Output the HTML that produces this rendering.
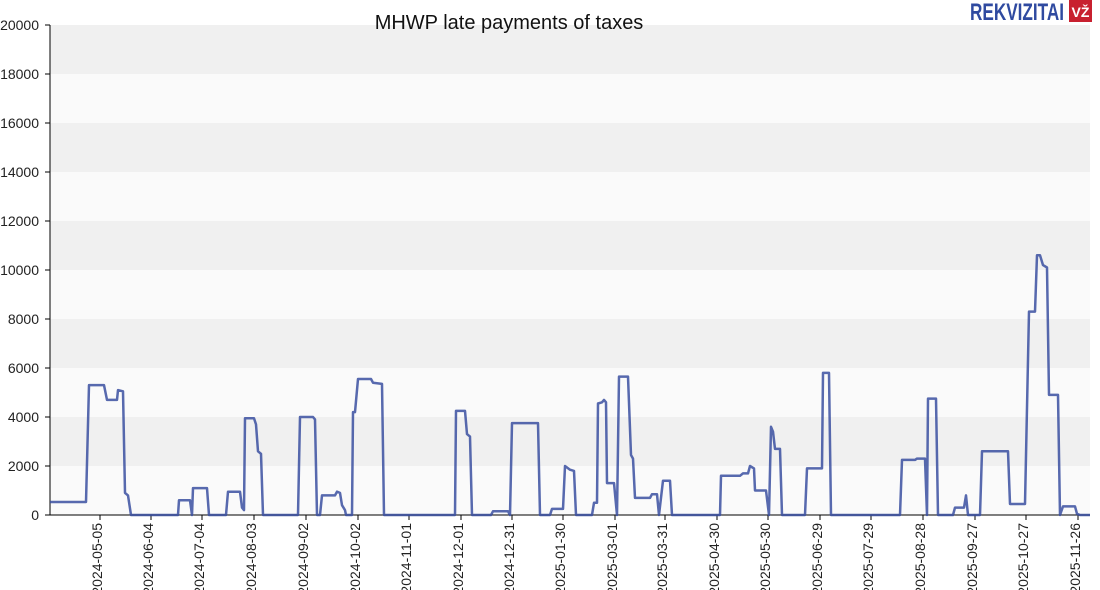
<!DOCTYPE html>
<html><head><meta charset="utf-8"><style>body{margin:0;background:#fff}svg{display:block;font-family:"Liberation Sans",sans-serif}</style></head>
<body>
<svg id="s" width="1100" height="590" xmlns="http://www.w3.org/2000/svg">
<rect width="1100" height="590" fill="#fff"/>
<g id="bands"></g>
<text x="509" y="29" font-size="20" text-anchor="middle" fill="#111">MHWP late payments of taxes</text>
<text x="1064" y="20" font-size="24" font-weight="bold" text-anchor="end" fill="#2f4aa0" textLength="94" lengthAdjust="spacingAndGlyphs">REKVIZITAI</text>
<rect x="1069" y="0" width="23" height="22" fill="#c8202f"/>
<text x="1080.5" y="17" font-size="14" font-weight="bold" text-anchor="middle" fill="#fff">VŽ</text>
<g id="yl" font-size="14" fill="#222" text-anchor="end"></g>
<g id="xl" font-size="14" fill="#222"></g>
<line x1="50" y1="25" x2="50" y2="515" stroke="#000"/>
<line x1="50" y1="515" x2="1090" y2="515" stroke="#000"/>
<polyline id="ln" fill="none" stroke="#3a4fa0" stroke-width="2.5" stroke-linejoin="round" stroke-opacity="0.85"/>
</svg>
<script>
var NS="http://www.w3.org/2000/svg";
function el(t,a,p,txt){var e=document.createElementNS(NS,t);for(var k in a)e.setAttribute(k,a[k]);if(txt!=null)e.textContent=txt;document.getElementById(p).appendChild(e);return e;}
function Y(v){return 515-v*0.0245;}
for(var i=0;i<10;i++){var v0=i*2000;el('rect',{x:50,y:Y(v0+2000),width:1040,height:49,fill:(i%2?'#f0f0f0':'#fafafa')},'bands');}
for(var v=0;v<=20000;v+=2000){el('text',{x:39,y:Y(v)+5},'yl',String(v));el('line',{x1:45,y1:Y(v),x2:50,y2:Y(v),stroke:'#000'},'yl');}
var ticks=[[100,'2024-05-05'],[151,'2024-06-04'],[202,'2024-07-04'],[254,'2024-08-03'],[306,'2024-09-02'],[358,'2024-10-02'],[409,'2024-11-01'],[461,'2024-12-01'],[512,'2024-12-31'],[563,'2025-01-30'],[615,'2025-03-01'],[665,'2025-03-31'],[717,'2025-04-30'],[768,'2025-05-30'],[820,'2025-06-29'],[871,'2025-07-29'],[923,'2025-08-28'],[975,'2025-09-27'],[1026,'2025-10-27'],[1078,'2025-11-26']];
ticks.forEach(function(t){el('line',{x1:t[0],y1:515,x2:t[0],y2:520,stroke:'#000'},'xl');el('text',{x:0,y:0,'text-anchor':'end',transform:'translate('+(t[0]+2)+',523) rotate(-90)'},'xl',t[1]);});
var d=[50,530,86,530,89,5300,104,5300,107,4700,117,4700,118,5100,123,5050,125,900,128,800,131,0,178,0,179,600,190,600,192,0,193,1100,207,1100,209,0,226,0,228,950,240,950,242,300,244,200,245,3950,254,3950,256,3700,258,2600,261,2500,263,0,298,0,300,4000,313,4000,315,3900,317,0,320,0,322,800,335,800,337,950,340,900,342,400,345,200,346,0,352,0,353,4200,355,4200,358,5550,371,5550,373,5400,382,5350,384,0,455,0,456,4250,465,4250,467,3300,470,3200,472,0,491,0,493,150,508,150,510,0,512,3750,538,3750,540,0,550,0,552,250,563,250,565,2000,570,1850,574,1800,576,0,592,0,594,500,597,500,598,4550,602,4600,604,4700,606,4600,607,1300,614,1300,617,0,619,5650,628,5650,631,2450,633,2300,635,700,650,700,652,850,657,850,659,0,663,1400,670,1400,672,0,720,0,721,1600,740,1600,743,1700,748,1700,750,2000,754,1900,755,1000,766,1000,769,0,771,3600,773,3400,775,2700,780,2700,782,0,805,0,807,1900,822,1900,823,5800,829,5800,831,0,900,0,902,2250,915,2250,917,2300,925,2300,927,0,928,4750,936,4750,938,0,953,0,955,300,964,300,966,800,968,0,980,0,982,2600,1008,2600,1010,450,1025,450,1029,8300,1035,8300,1037,10600,1040,10600,1043,10200,1047,10100,1049,4900,1058,4900,1060,0,1063,350,1075,350,1077,50,1080,0,1090,0];
var p=[];for(var i=0;i<d.length;i+=2)p.push(d[i]+','+Y(d[i+1]).toFixed(1));
document.getElementById('ln').setAttribute('points',p.join(' '));
</script>
</body></html>
